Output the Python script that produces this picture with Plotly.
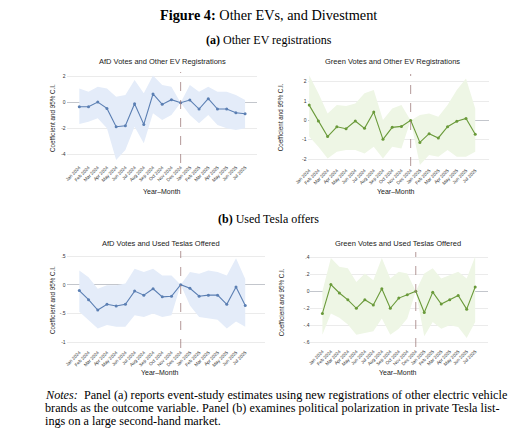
import plotly.graph_objects as go

months = ["Jan 2024", "Feb 2024", "Mar 2024", "Apr 2024", "May 2024", "Jun 2024",
          "Jul 2024", "Aug 2024", "Sep 2024", "Oct 2024", "Nov 2024", "Dec 2024",
          "Jan 2025", "Feb 2025", "Mar 2025", "Apr 2025", "May 2025", "Jun 2025", "Jul 2025"]
event_month = "Dec 2024"

afd_ev_coef = [-0.31, -0.31, 0.05, -0.44, -1.85, -1.77, -0.08, -1.67, 0.67, -0.13, 0.23, 0.0,
               0.20, -0.49, 0.31, -0.49, -0.49, -0.77, -0.85]
afd_ev_hi = [1.10, 0.85, 1.23, 1.10, 0.46, 0.60, 1.74, 0.72, 2.10, 1.36, 1.23, 0.0,
             1.36, 0.85, 1.23, 0.85, 0.85, 0.60, 0.20]
afd_ev_lo = [-1.64, -1.46, -1.20, -1.97, -4.40, -3.64, -1.85, -3.13, -0.82, -1.33, -0.95, 0.0,
             -0.95, -1.59, -0.95, -1.72, -1.97, -2.10, -1.97]

green_ev_coef = [0.79, -0.03, -0.84, -0.33, -0.43, -0.03, -0.41, 0.43, -0.98, -0.36, -0.31, 0.0,
                 -1.14, -0.69, -0.91, -0.33, -0.05, 0.10, -0.72]
green_ev_hi = [2.34, 1.40, 0.36, 0.79, 0.74, 0.88, 1.40, 1.57, 0.02, 0.62, 0.79, 0.0,
               0.28, 0.36, 0.19, 0.79, 1.57, 2.17, 0.62]
green_ev_lo = [-0.84, -1.36, -1.97, -1.62, -1.53, -1.53, -1.71, -1.36, -1.97, -1.36, -1.45, 0.0,
               -2.31, -1.79, -1.88, -1.53, -1.88, -1.88, -1.62]

afd_tesla_coef = [-0.10, -0.26, -0.44, -0.34, -0.37, -0.34, -0.11, -0.18, -0.07, -0.21, -0.20, 0.0,
                  -0.06, -0.20, -0.18, -0.18, -0.34, -0.04, -0.36]
afd_tesla_hi = [0.25, 0.13, -0.07, -0.01, -0.01, 0.02, 0.28, 0.22, 0.28, 0.16, 0.16, 0.0,
                0.22, 0.19, 0.25, 0.22, 0.16, 0.46, 0.10]
afd_tesla_lo = [-0.47, -0.61, -0.76, -0.70, -0.73, -0.73, -0.53, -0.56, -0.50, -0.56, -0.53, 0.0,
                -0.36, -0.56, -0.59, -0.61, -0.76, -0.64, -0.73]

green_tesla_coef = [-0.26, 0.08, -0.02, -0.10, -0.20, -0.10, -0.16, 0.03, -0.20, -0.08, -0.04, 0.0,
                    -0.25, -0.01, -0.15, -0.10, -0.05, -0.21, 0.05]
green_tesla_hi = [0.00, 0.39, 0.29, 0.27, 0.11, 0.21, 0.13, 0.39, 0.15, 0.23, 0.21, 0.0,
                  0.21, 0.27, 0.15, 0.19, 0.23, 0.15, 0.41]
green_tesla_lo = [-0.51, -0.26, -0.31, -0.39, -0.51, -0.49, -0.47, -0.32, -0.51, -0.44, -0.32, 0.0,
                  -0.53, -0.36, -0.44, -0.40, -0.42, -0.55, -0.36]

p1_ticks = [-4, -2, 0, 2]
p1_labels = ["-4", "-2", "0", "2"]
p2_ticks = [-2, -1, 0, 1, 2]
p2_labels = ["-2", "-1", "0", "1", "2"]
p3_ticks = [-1, -0.5, 0, 0.5]
p3_labels = ["-1", "-.5", "0", ".5"]
p4_ticks = [-0.6, -0.4, -0.2, 0, 0.2, 0.4]
p4_labels = ["-.6", "-.4", "-.2", "0", ".2", ".4"]

panel_titles = ["AfD Votes and Other EV Registrations", "Green Votes and Other EV Registrations",
                "AfD Votes and Used Teslas Offered", "Green Votes and Used Teslas Offered"]

BLUE = "#5b7fb3"
BLUE_BAND = "rgb(228,236,249)"
GREEN = "#6a9a3a"
GREEN_BAND = "rgb(238,246,229)"

W, H = 524, 440
def px(x):
    return x / W
def py(y):
    return 1 - y / H

xs = list(range(len(months)))
fig = go.Figure()

panels = [
    (afd_ev_coef, afd_ev_hi, afd_ev_lo, BLUE, BLUE_BAND, p1_ticks, p1_labels,
     (55, 250), (72, 163), [-1.376, 19.27], [-4.64, 2.36]),
    (green_ev_coef, green_ev_hi, green_ev_lo, GREEN, GREEN_BAND, p2_ticks, p2_labels,
     (302, 488), (74, 166), [-0.18, 19.48], [-2.36, 2.40]),
    (afd_tesla_coef, afd_tesla_hi, afd_tesla_lo, BLUE, BLUE_BAND, p3_ticks, p3_labels,
     (55, 258), (251, 348), [-1.376, 20.1], [-1.099, 0.587]),
    (green_tesla_coef, green_tesla_hi, green_tesla_lo, GREEN, GREEN_BAND, p4_ticks, p4_labels,
     (305, 487), (252, 347), [-1.41, 19.5], [-0.655, 0.462]),
]

layout_axes = {}
for i, (coef, hi, lo, col, band, yt, yl, xd, yd, xr, yr) in enumerate(panels):
    n = i + 1
    xa = "x" if n == 1 else f"x{n}"
    ya = "y" if n == 1 else f"y{n}"
    fig.add_trace(go.Scatter(x=xs, y=lo, mode="lines", line=dict(width=0, color=band),
                             xaxis=xa, yaxis=ya, showlegend=False, hoverinfo="skip"))
    fig.add_trace(go.Scatter(x=xs, y=hi, mode="lines", line=dict(width=0, color=band),
                             fill="tonexty", fillcolor=band,
                             xaxis=xa, yaxis=ya, showlegend=False, hoverinfo="skip"))
    fig.add_trace(go.Scatter(x=xs, y=coef, mode="lines+markers",
                             line=dict(width=1.1, color=col),
                             marker=dict(size=3, color=col),
                             xaxis=xa, yaxis=ya, showlegend=False))
    xkey = "xaxis" if n == 1 else f"xaxis{n}"
    ykey = "yaxis" if n == 1 else f"yaxis{n}"
    layout_axes[xkey] = dict(domain=[px(xd[0]), px(xd[1])], anchor=ya, range=xr,
                             tickmode="array", tickvals=xs, ticktext=months, tickangle=-45,
                             tickfont=dict(family="Liberation Sans", size=4.6, color="#333"),
                             showgrid=False, zeroline=False, showline=False, ticks="")
    layout_axes[ykey] = dict(domain=[py(yd[1]), py(yd[0])], anchor=xa, range=yr,
                             tickmode="array", tickvals=yt, ticktext=yl,
                             tickfont=dict(family="Liberation Sans", size=5, color="#333"),
                             showgrid=True, gridcolor="#ebebeb", gridwidth=0.8,
                             zeroline=True, zerolinecolor="#c3c6cc", zerolinewidth=0.9,
                             showline=False, ticks="")
    fig.add_shape(type="line", xref=xa, yref=f"{ya} domain",
                  x0=months.index(event_month), x1=months.index(event_month), y0=0, y1=1,
                  line=dict(color="#a07e7e", width=0.8, dash="dash"))

fig.update_layout(**layout_axes)

ann = []
def text(x, y, s, size, family="Liberation Sans", angle=0, xanchor="center", color="#222"):
    ann.append(dict(x=px(x), y=py(y), xref="paper", yref="paper", text=s, showarrow=False,
                    font=dict(family=family, size=size, color=color), textangle=angle,
                    xanchor=xanchor, yanchor="middle", borderpad=0))

text(262, 15, "<b>Figure 4:</b> Other EVs, and Divestment", 14.3, family="Liberation Serif", color="#000")
text(262, 40, "<b>(a)</b> Other EV registrations", 12, family="Liberation Serif", color="#000")
text(262, 219, "<b>(b)</b> Used Tesla offers", 12, family="Liberation Serif", color="#000")

text(153, 62, panel_titles[0], 7.5)
text(389, 62, panel_titles[1], 7.5)
text(152, 243, panel_titles[2], 7.5)
text(395, 243, panel_titles[3], 7.5)

for (x, y) in [(153, 192), (393, 192), (151, 372), (395, 372)]:
    text(x, y, "Year–Month", 7)
for (x, y) in [(40, 118), (275, 117), (40, 300), (275, 302)]:
    text(x, y, "Coefficient and 95% C.I.", 6.3, angle=-90)

notes = [
    "<i>Notes:</i>  Panel (a) reports event-study estimates using new registrations of other electric vehicle",
    "brands as the outcome variable. Panel (b) examines political polarization in private Tesla list-",
    "ings on a large second-hand market.",
]
for k, line in enumerate(notes):
    text(32, 395 + 12.8 * k, line, 12.2, family="Liberation Serif", xanchor="left", color="#000")

fig.update_layout(annotations=ann, width=W, height=H, margin=dict(l=0, r=0, t=0, b=0),
                  paper_bgcolor="white", plot_bgcolor="white", showlegend=False)

fig.write_html("out.html", config={"displayModeBar": False})
